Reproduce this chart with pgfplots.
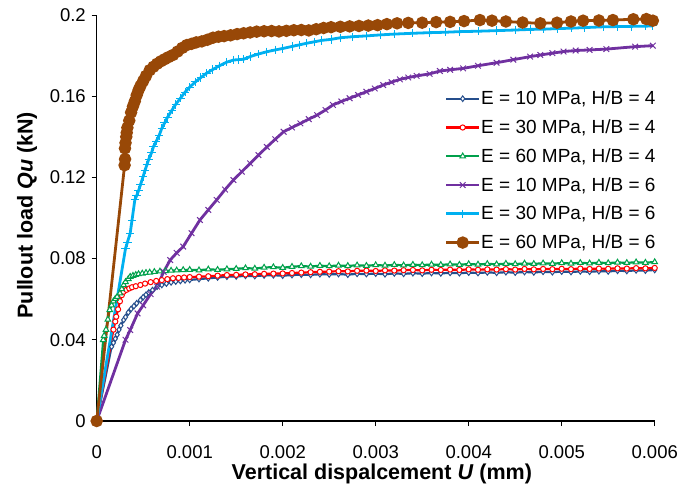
\documentclass[border=0pt]{standalone}
\usepackage{fontspec}
\setmainfont{Liberation Sans}
\usepackage{pgfplots}
\pgfplotsset{compat=1.18}
\definecolor{cBlue}{HTML}{254E8C}
\definecolor{cRed}{HTML}{FF0000}
\definecolor{cGreen}{HTML}{00A04B}
\definecolor{cPurple}{HTML}{7030A0}
\definecolor{cCyan}{HTML}{00B0F0}
\definecolor{cBrown}{HTML}{984807}
\begin{document}
\begin{tikzpicture}
\begin{axis}[
  scale only axis, width=558pt, height=406pt,
  xmin=0, xmax=0.006, ymin=0, ymax=0.2,
  axis x line*=bottom, axis y line*=left,
  axis line style={line width=1.6pt, black},
  xtick={0,0.001,0.002,0.003,0.004,0.005,0.006},
  xticklabels={0,0.001,0.002,0.003,0.004,0.005,0.006},
  ytick={0,0.04,0.08,0.12,0.16,0.2},
  yticklabels={0,0.04,0.08,0.12,0.16,0.2},
  scaled x ticks=false, scaled y ticks=false,
  tick align=outside, major tick length=5pt,
  tick style={black, line width=0.8pt},
  ticklabel style={font=\fontsize{18.5}{22}\selectfont},
  xticklabel style={yshift=-16pt},
  yticklabel style={xshift=-2.4pt},
  xlabel={\textbf{Vertical dispalcement \textit{U} (mm)}},
  ylabel={\textbf{Pullout load \textit{Qu} (kN)}},
  label style={font=\fontsize{21.5}{24}\selectfont},
  xlabel style={at={(axis description cs:0.511,0)}, anchor=base, yshift=-58pt},
  ylabel style={at={(axis description cs:0,0.507)}, anchor=center, yshift=69.7pt},
  clip=false,
  legend style={draw=none, fill=none, at={(axis description cs:0.626,0.818)}, anchor=north west,
    font=\fontsize{19}{21}\selectfont, row sep=9.5pt, inner sep=0pt},
  legend cell align=left,
  legend image code/.code={\draw[mark repeat=2,mark phase=2] plot coordinates {(0pt,0pt) (16.5pt,0pt) (33pt,0pt)};
    \pgfresetboundingbox\pgfpathrectangle{\pgfpoint{0pt}{-3pt}}{\pgfpoint{33pt}{6pt}}\pgfusepath{use as bounding box}},
]
\addplot[cBlue, line width=2.2pt, mark=diamond*, mark size=2.8pt, mark options={solid, fill=white, line width=1pt}] table {
0 0
0.00016 0.0366
0.00018 0.0385
0.00020 0.0405
0.00022 0.0425
0.00024 0.0450
0.00026 0.0470
0.00029 0.0498
0.00031 0.0512
0.00034 0.0535
0.00037 0.0552
0.00040 0.0566
0.00043 0.0580
0.00047 0.0596
0.00050 0.0610
0.00053 0.0622
0.00056 0.0633
0.00060 0.0645
0.00065 0.0662
0.00070 0.0670
0.00075 0.0677
0.00080 0.0683
0.00085 0.0687
0.00090 0.0690
0.00095 0.0693
0.00100 0.0695
0.0011 0.0699
0.0012 0.0703
0.0013 0.0707
0.0014 0.0711
0.0015 0.0712
0.0016 0.0715
0.0017 0.0714
0.0018 0.0717
0.0019 0.0718
0.0020 0.0716
0.0021 0.0719
0.0022 0.0721
0.0023 0.0720
0.0024 0.0723
0.0025 0.0722
0.0026 0.0724
0.0027 0.0721
0.0028 0.0725
0.0029 0.0724
0.0030 0.0726
0.0031 0.0723
0.0032 0.0727
0.0033 0.0725
0.0034 0.0728
0.0035 0.0726
0.0036 0.0729
0.0037 0.0727
0.0038 0.0730
0.0039 0.0728
0.0040 0.0731
0.0041 0.0729
0.0042 0.0732
0.0043 0.0730
0.0044 0.0733
0.0045 0.0731
0.0046 0.0734
0.0047 0.0732
0.0048 0.0735
0.0049 0.0733
0.0050 0.0736
0.0051 0.0734
0.0052 0.0737
0.0053 0.0735
0.0054 0.0738
0.0055 0.0737
0.0056 0.0740
0.0057 0.0739
0.0058 0.0742
0.0059 0.0741
0.0060 0.0744
};
\addlegendentry{E = 10 MPa, H/B = 4}
\addplot[cRed, line width=2.2pt, mark=*, mark size=2.6pt, mark options={solid, fill=white, line width=1pt}] table {
0 0
0.00018 0.0450
0.00020 0.0490
0.00021 0.0514
0.00023 0.0550
0.00025 0.0590
0.00027 0.0620
0.00029 0.0637
0.00032 0.0646
0.00035 0.0653
0.00038 0.0659
0.00042 0.0664
0.00047 0.0670
0.00052 0.0677
0.00058 0.0684
0.00064 0.0690
0.00070 0.0694
0.00076 0.0699
0.00082 0.0703
0.00088 0.0705
0.00094 0.0707
0.0010 0.0709
0.0011 0.0711
0.0012 0.0713
0.0013 0.0716
0.0014 0.0719
0.0015 0.0720
0.0016 0.0722
0.0017 0.0723
0.0018 0.0725
0.0019 0.0726
0.0020 0.0727
0.0021 0.0729
0.0022 0.0731
0.0023 0.0733
0.0024 0.0735
0.0025 0.0736
0.0026 0.0738
0.0027 0.0737
0.0028 0.0740
0.0029 0.0741
0.0030 0.0739
0.0031 0.0742
0.0032 0.0741
0.0033 0.0743
0.0034 0.0744
0.0035 0.0742
0.0036 0.0745
0.0037 0.0744
0.0038 0.0746
0.0039 0.0744
0.0040 0.0747
0.0041 0.0745
0.0042 0.0747
0.0043 0.0746
0.0044 0.0748
0.0045 0.0746
0.0046 0.0749
0.0047 0.0747
0.0048 0.0749
0.0049 0.0748
0.0050 0.0750
0.0051 0.0748
0.0052 0.0751
0.0053 0.0749
0.0054 0.0751
0.0055 0.0750
0.0056 0.0752
0.0057 0.0751
0.0058 0.0753
0.0059 0.0752
0.0060 0.0754
};
\addlegendentry{E = 30 MPa, H/B = 4}
\addplot[cGreen, line width=2.2pt, mark=triangle*, mark size=3.2pt, mark options={solid, fill=white, line width=1pt}] table {
0 0
0.00007 0.0399
0.00008 0.0420
0.00010 0.0450
0.00012 0.0500
0.00014 0.0547
0.00016 0.0570
0.00018 0.0590
0.00020 0.0602
0.00022 0.0612
0.00025 0.0629
0.00027 0.0650
0.00029 0.0670
0.00031 0.0685
0.00034 0.0700
0.00036 0.0711
0.00039 0.0716
0.00042 0.0720
0.00045 0.0724
0.00049 0.0727
0.00053 0.0730
0.00057 0.0732
0.00062 0.0735
0.00068 0.0737
0.00074 0.0739
0.00080 0.0741
0.00086 0.0742
0.00093 0.0744
0.0010 0.0745
0.0011 0.0743
0.0012 0.0747
0.0013 0.0745
0.0014 0.0748
0.0015 0.0750
0.0016 0.0753
0.0017 0.0751
0.0018 0.0756
0.0019 0.0758
0.0020 0.0755
0.0021 0.0760
0.0022 0.0763
0.0023 0.0761
0.0024 0.0765
0.0025 0.0763
0.0026 0.0766
0.0027 0.0764
0.0028 0.0767
0.0029 0.0765
0.0030 0.0768
0.0031 0.0766
0.0032 0.0769
0.0033 0.0767
0.0034 0.0770
0.0035 0.0768
0.0036 0.0771
0.0037 0.0769
0.0038 0.0772
0.0039 0.0770
0.0040 0.0773
0.0041 0.0771
0.0042 0.0774
0.0043 0.0772
0.0044 0.0775
0.0045 0.0773
0.0046 0.0776
0.0047 0.0774
0.0048 0.0777
0.0049 0.0775
0.0050 0.0778
0.0051 0.0776
0.0052 0.0779
0.0053 0.0777
0.0054 0.0780
0.0055 0.0778
0.0056 0.0781
0.0057 0.0779
0.0058 0.0782
0.0059 0.0780
0.0060 0.0783
};
\addlegendentry{E = 60 MPa, H/B = 4}
\addplot[cPurple, line width=2.8pt, mark=x, mark size=4pt, mark options={solid, line width=1pt}] table {
0 0
0.00031 0.0400
0.00036 0.0448
0.00044 0.0530
0.00050 0.0570
0.00058 0.0625
0.00065 0.0662
0.00072 0.0735
0.00079 0.0793
0.00086 0.0828
0.00093 0.0859
0.00102 0.0925
0.00111 0.0990
0.00120 0.1040
0.00129 0.1089
0.00138 0.1140
0.00147 0.1187
0.00156 0.1228
0.00165 0.1269
0.00174 0.1310
0.00183 0.1350
0.00192 0.1388
0.00201 0.1425
0.00210 0.1446
0.00219 0.1466
0.00228 0.1487
0.00237 0.1507
0.00246 0.1532
0.00254 0.1557
0.00263 0.1574
0.00272 0.1590
0.00281 0.1606
0.00290 0.1622
0.00299 0.1638
0.00308 0.1655
0.00317 0.1669
0.00326 0.1683
0.00335 0.1692
0.00344 0.1700
0.00358 0.1710
0.00369 0.1724
0.00380 0.1730
0.00394 0.1737
0.00410 0.1750
0.00430 0.1765
0.00448 0.1780
0.00466 0.1795
0.00477 0.1803
0.00490 0.1812
0.00502 0.1820
0.00515 0.1825
0.00530 0.1828
0.00548 0.1832
0.00579 0.1844
0.00598 0.1849
};
\addlegendentry{E = 10 MPa, H/B = 6}
\addplot[cCyan, line width=2.8pt, mark=+, mark size=4.2pt, mark options={solid, line width=1pt}] table {
0 0
0.00031 0.0850
0.00033 0.0880
0.00036 0.0925
0.00038 0.0990
0.00041 0.1089
0.00043 0.1110
0.00045 0.1135
0.00047 0.1163
0.00050 0.1205
0.00052 0.1236
0.00054 0.1262
0.00056 0.1290
0.00059 0.1322
0.00061 0.1351
0.00064 0.1378
0.00067 0.1405
0.00070 0.1442
0.00073 0.1468
0.00076 0.1495
0.00081 0.1532
0.00085 0.1560
0.00090 0.1590
0.00095 0.1620
0.00100 0.1645
0.00106 0.1670
0.00112 0.1692
0.00118 0.1713
0.00125 0.1732
0.00132 0.1750
0.00140 0.1768
0.00147 0.1778
0.00152 0.1780
0.00158 0.1782
0.00165 0.1795
0.00174 0.1808
0.00183 0.1819
0.00192 0.1828
0.00200 0.1835
0.00210 0.1845
0.00218 0.1853
0.00226 0.1861
0.00234 0.1868
0.00242 0.1875
0.00252 0.1880
0.00262 0.1888
0.00275 0.1893
0.00290 0.1897
0.00305 0.1902
0.00320 0.1906
0.00340 0.1910
0.00358 0.1913
0.00375 0.1915
0.00390 0.1918
0.00410 0.1920
0.00430 0.1923
0.00450 0.1926
0.00466 0.1929
0.00480 0.1930
0.00495 0.1933
0.00510 0.1935
0.00525 0.1938
0.00545 0.1942
0.00560 0.1943
0.00575 0.1944
0.00590 0.1945
0.00598 0.1946
};
\addlegendentry{E = 30 MPa, H/B = 6}
\addplot[cBrown, line width=2.8pt, mark=*, mark size=4.8pt, mark options={solid, fill=cBrown}] table {
0 0
0.000300 0.1260
0.000305 0.1290
0.000304 0.1343
0.000310 0.1370
0.000318 0.1400
0.000323 0.1420
0.00033 0.1445
0.00035 0.1480
0.00037 0.1520
0.00039 0.1550
0.00041 0.1575
0.00043 0.1605
0.00045 0.1630
0.00047 0.1650
0.00050 0.1675
0.00053 0.1700
0.00057 0.1728
0.00061 0.1745
0.00065 0.1760
0.00069 0.1772
0.00073 0.1782
0.00077 0.1792
0.00082 0.1803
0.00087 0.1820
0.00092 0.1838
0.00097 0.1852
0.00102 0.1858
0.00107 0.1865
0.00113 0.1870
0.00119 0.1878
0.00125 0.1888
0.00131 0.1893
0.00137 0.1896
0.00144 0.1900
0.00151 0.1906
0.00158 0.1910
0.00165 0.1914
0.00172 0.1918
0.00180 0.1920
0.00188 0.1921
0.00196 0.1919
0.00204 0.1922
0.00212 0.1925
0.00220 0.1926
0.00228 0.1924
0.00236 0.1930
0.00244 0.1936
0.00252 0.1940
0.00262 0.1942
0.00272 0.1944
0.00282 0.1946
0.00292 0.1948
0.00302 0.1950
0.00312 0.1955
0.00323 0.1959
0.00335 0.1961
0.00350 0.1962
0.00365 0.1965
0.00380 0.1966
0.00395 0.1970
0.00412 0.1975
0.00425 0.1972
0.00440 0.1968
0.00458 0.1963
0.00477 0.1959
0.00495 0.1962
0.00510 0.1968
0.00523 0.1972
0.00540 0.1973
0.00555 0.1975
0.00577 0.1979
0.00591 0.1980
0.00598 0.1972
};
\addlegendentry{E = 60 MPa, H/B = 6}
\end{axis}
\pgfresetboundingbox
\path[use as bounding box] (-96.7pt,-80pt) rectangle (582.3pt,421pt);
\end{tikzpicture}
\end{document}
